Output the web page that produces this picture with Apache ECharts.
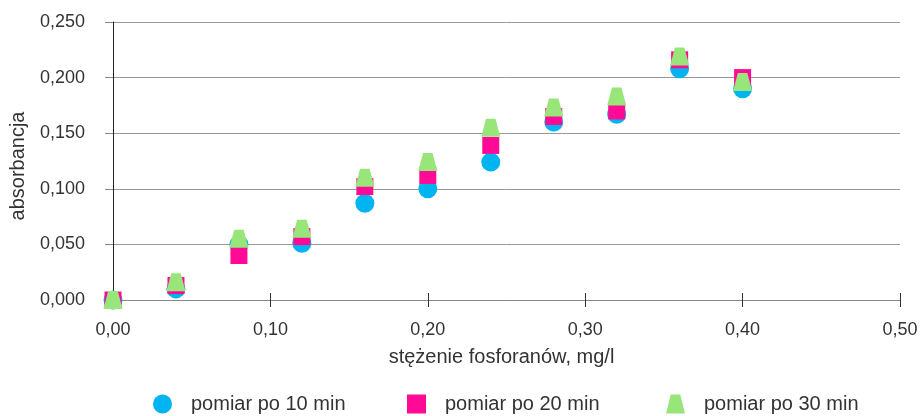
<!DOCTYPE html>
<html>
<head>
<meta charset="utf-8">
<script src="https://cdn.jsdelivr.net/npm/echarts@6/dist/echarts.min.js"></script>
<style>
  html, body { margin: 0; padding: 0; background: #fff; }
  #chart { width: 924px; height: 416px; }
</style>
</head>
<body>
<div id="chart"></div>
<script>
// stężenie fosforanów, mg/l
var stezenie = [0.00, 0.04, 0.08, 0.12, 0.16, 0.20, 0.24, 0.28, 0.32, 0.36, 0.40];
// absorbancja
var pomiar10 = [0.000, 0.010, 0.050, 0.051, 0.087, 0.100, 0.124, 0.160, 0.167, 0.208, 0.190];
var pomiar20 = [0.000, 0.013, 0.040, 0.057, 0.102, 0.112, 0.139, 0.165, 0.170, 0.216, 0.200];
var pomiar30 = [0.000, 0.016, 0.055, 0.064, 0.110, 0.124, 0.155, 0.173, 0.183, 0.219, 0.196];
var seriesNames = ['pomiar po 10 min', 'pomiar po 20 min', 'pomiar po 30 min'];

var trapez = 'path://M5,0 L15,0 L20,20 L0,20 Z';
var font = 'Liberation Sans, Arial, sans-serif';

function pairs(ys) {
    var out = [];
    for (var i = 0; i < stezenie.length; i++) {
        out.push([stezenie[i], ys[i]]);
    }
    return out;
}
function comma(v, d) {
    return v.toFixed(d).replace('.', ',');
}
// one legend per entry so the spacing can follow the original
function legendItem(name, icon, left) {
    return {
        top: 389,
        left: left,
        itemWidth: 19,
        itemHeight: 19,
        textStyle: { fontSize: 20, color: '#333', fontFamily: font, padding: [0, 0, 0, 14] },
        data: [{ name: name, icon: icon }]
    };
}

var myChart = echarts.init(document.getElementById('chart'));
var option = {
    animation: false,
    textStyle: { fontFamily: font },
    grid: { left: 113, right: 24, top: 22, bottom: 116 },
    legend: [
        legendItem(seriesNames[0], 'circle', 148),
        legendItem(seriesNames[1], 'rect', 402),
        legendItem(seriesNames[2], trapez, 661)
    ],
    xAxis: [
        {
            type: 'value',
            min: 0,
            max: 0.5,
            interval: 0.1,
            name: 'stężenie fosforanów, mg/l',
            nameLocation: 'middle',
            nameGap: 47,
            nameTextStyle: { fontSize: 20, color: '#333', padding: [0, 10, 0, 0] },
            axisLine: { show: true, lineStyle: { color: '#888', width: 1 } },
            axisTick: { show: true, length: 7, lineStyle: { color: '#333' } },
            axisLabel: {
                fontSize: 18, color: '#333', margin: 21,
                formatter: function (v) { return comma(v, 2); }
            },
            splitLine: { show: false }
        },
        {
            // inner half of the crossing ticks
            type: 'value',
            position: 'bottom',
            min: 0,
            max: 0.5,
            interval: 0.1,
            axisLine: { show: false },
            axisTick: { show: true, inside: true, length: 7, lineStyle: { color: '#333' } },
            axisLabel: { show: false },
            splitLine: { show: false }
        }
    ],
    yAxis: {
        type: 'value',
        min: 0,
        max: 0.25,
        interval: 0.05,
        name: 'absorbancja',
        nameLocation: 'middle',
        nameGap: 85,
        nameTextStyle: { fontSize: 20, color: '#333', padding: [0, 10, 0, 0] },
        axisLine: { show: true, lineStyle: { color: '#222', width: 1 } },
        axisTick: { show: true, length: 8, lineStyle: { color: '#888' } },
        axisLabel: {
            fontSize: 18, color: '#333', margin: 28,
            formatter: function (v) { return comma(v, 3); }
        },
        splitLine: { show: true, lineStyle: { color: '#999', width: 1 } }
    },
    series: [
        {
            name: seriesNames[0],
            type: 'scatter',
            symbol: 'circle',
            symbolSize: 19,
            itemStyle: { color: '#00b4f2', opacity: 1 },
            data: pairs(pomiar10)
        },
        {
            name: seriesNames[1],
            type: 'scatter',
            symbol: 'rect',
            symbolSize: 17,
            itemStyle: { color: '#ff0a96', opacity: 1 },
            data: pairs(pomiar20)
        },
        {
            name: seriesNames[2],
            type: 'scatter',
            symbol: trapez,
            symbolSize: [19, 18],
            itemStyle: { color: '#98e67a', opacity: 1 },
            data: pairs(pomiar30)
        }
    ]
};
myChart.setOption(option);
</script>
</body>
</html>
